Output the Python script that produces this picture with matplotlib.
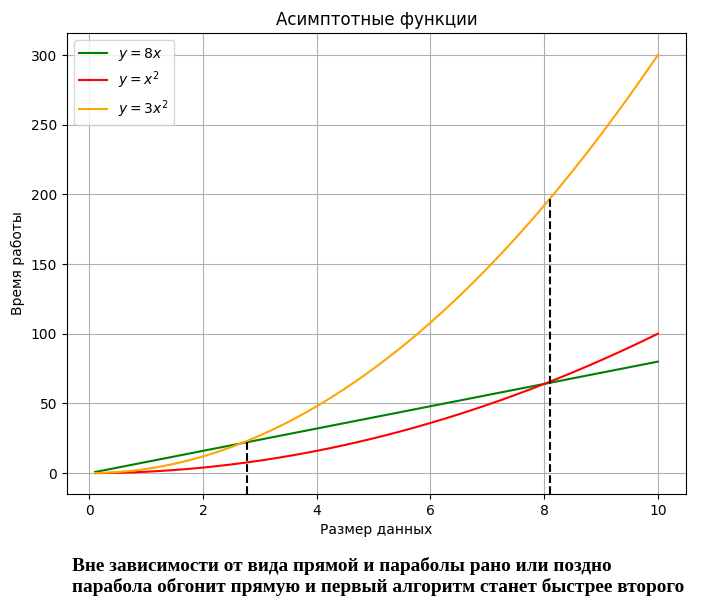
import matplotlib
matplotlib.use("Agg")
import matplotlib.pyplot as plt

# значения
x = [0.1, 0.25, 0.5, 0.75, 1.0, 1.25, 1.5, 1.75, 2.0, 2.25, 2.5,
     2.75, 3.0, 3.25, 3.5, 3.75, 4.0, 4.25, 4.5, 4.75, 5.0,
     5.25, 5.5, 5.75, 6.0, 6.25, 6.5, 6.75, 7.0, 7.25, 7.5,
     7.75, 8.0, 8.25, 8.5, 8.75, 9.0, 9.25, 9.5, 9.75, 10.0]
y_line = [0.8, 2, 4, 6, 8, 10, 12, 14, 16, 18, 20,
          22, 24, 26, 28, 30, 32, 34, 36, 38, 40,
          42, 44, 46, 48, 50, 52, 54, 56, 58, 60,
          62, 64, 66, 68, 70, 72, 74, 76, 78, 80]
y_sq = [0.01, 0.06, 0.25, 0.56, 1, 1.56, 2.25, 3.06, 4, 5.06, 6.25,
        7.56, 9, 10.56, 12.25, 14.06, 16, 18.06, 20.25, 22.56, 25,
        27.56, 30.25, 33.06, 36, 39.06, 42.25, 45.56, 49, 52.56, 56.25,
        60.06, 64, 68.06, 72.25, 76.56, 81, 85.56, 90.25, 95.06, 100]
y_sq3 = [0.03, 0.19, 0.75, 1.69, 3, 4.69, 6.75, 9.19, 12, 15.19, 18.75,
         22.69, 27, 31.69, 36.75, 42.19, 48, 54.19, 60.75, 67.69, 75,
         82.69, 90.75, 99.19, 108, 117.19, 126.75, 136.69, 147, 157.69, 168.75,
         180.19, 192, 204.19, 216.75, 229.69, 243, 256.69, 270.75, 285.19, 300]

# точки пересечения (пунктир)
cross_x = [2.78, 8.1]
cross_y = [23.2, 196.8]

fig = plt.figure(figsize=(7.02, 6.01), dpi=100)
ax = fig.add_axes([0.0954, 0.178, 0.8818, 0.767])

ax.plot(x, y_line, color='green', label='$y = 8x$')
ax.plot(x, y_sq, color='red', label='$y = x^2$')
ax.plot(x, y_sq3, color='orange', label='$y = 3x^2$')

ymin = ax.get_ylim()[0]
ax.vlines(cross_x, ymin, cross_y, colors='black', linestyles='--', linewidth=1.5)
ax.set_ylim(bottom=ymin)

ax.set_title('Асимптотные функции')
ax.set_xlabel('Размер данных')
ax.set_ylabel('Время работы')
ax.grid(True)
ax.legend(loc='upper left')

fig.text(0.1026, 0.041, 'Вне зависимости от вида прямой и параболы рано или поздно\n'
         'парабола обгонит прямую и первый алгоритм станет быстрее второго',
         family='Liberation Serif', fontweight='bold', fontsize=13.9,
         ha='left', va='center', linespacing=1.25)

fig.savefig('out.png', dpi=100)
